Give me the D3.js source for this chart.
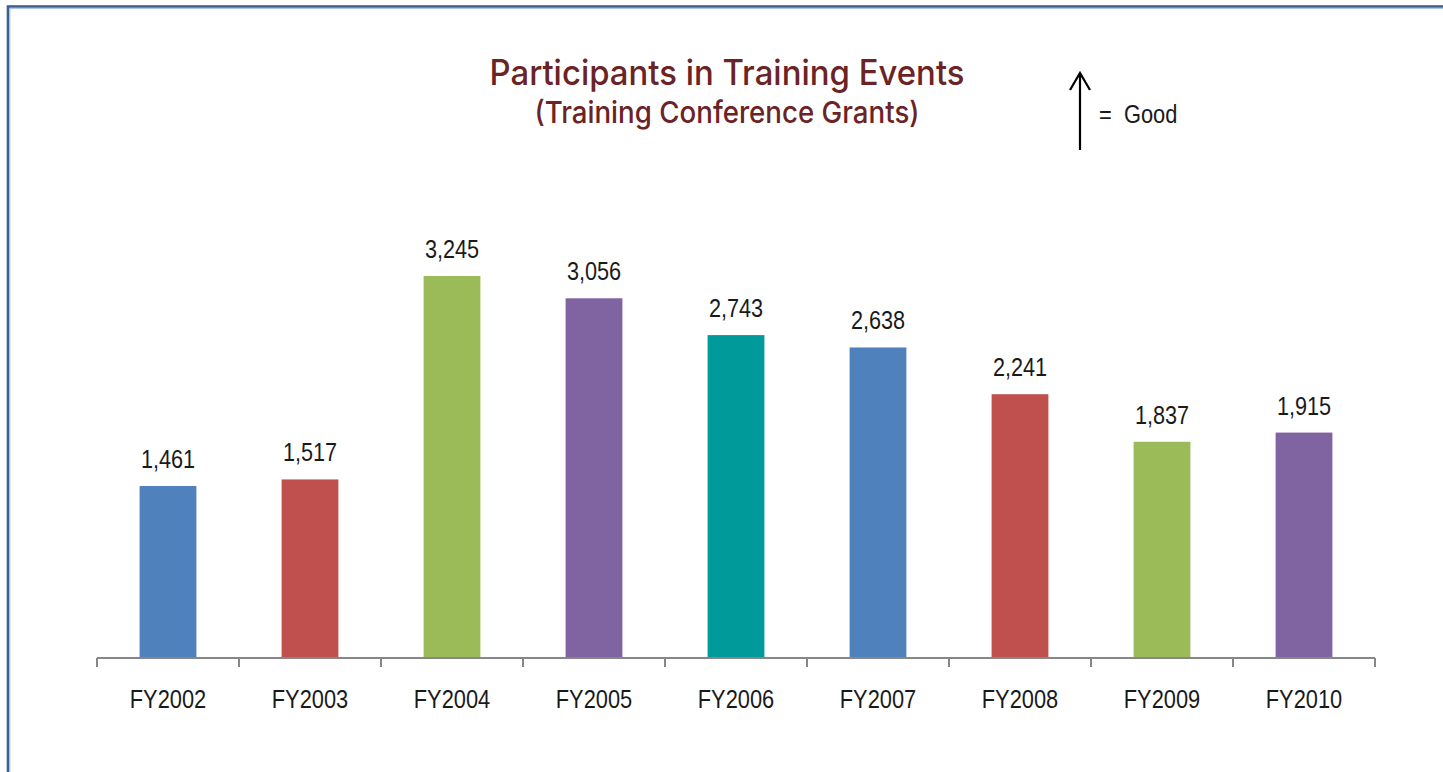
<!DOCTYPE html>
<html>
<head>
<meta charset="utf-8">
<script src="https://cdn.jsdelivr.net/npm/d3@7"></script>
<style>
  html, body { margin: 0; padding: 0; background: #fff; }
  svg { display: block; }
</style>
</head>
<body>
<svg id="chart"></svg>
<script>
// Participants in Training Events bar chart

var years = ["FY2002", "FY2003", "FY2004", "FY2005", "FY2006",
             "FY2007", "FY2008", "FY2009", "FY2010"];
var participants = [1461, 1517, 3245, 3056, 2743, 2638, 2241, 1837, 1915];
var barColors = ["#4F81BD", "#C0504D", "#9BBB59", "#8064A2", "#009A9A",
                 "#4F81BD", "#C0504D", "#9BBB59", "#8064A2"];
var titleText = "Participants in Training Events";
var subtitleText = "(Training Conference Grants)";
var legendText = "=  Good";

var width = 1443, height = 772;
var narrow = "'Liberation Sans Narrow', 'Arial Narrow', 'Liberation Sans', sans-serif";

var svg = d3.select("#chart").attr("width", width).attr("height", height);

// squeeze text to look like a narrow face (no narrow font installed)
function condense(sel, k) {
  sel.each(function() {
    var len = this.getComputedTextLength();
    d3.select(this).attr("textLength", len * k).attr("lengthAdjust", "spacingAndGlyphs");
  });
}

// frame (runs off the right and bottom edges)
svg.append("rect")
  .attr("x", 8).attr("y", 6.5)
  .attr("width", width + 20).attr("height", height + 20)
  .attr("fill", "none").attr("stroke", "#3C6190").attr("stroke-width", 2.6);
svg.append("path")
  .attr("d", "M9.8," + (height + 5) + "V8.3H" + (width + 5))
  .attr("fill", "none").attr("stroke", "#9DB9DC").attr("stroke-width", 1);

var x = d3.scaleBand()
  .domain(years)
  .range([97, 1375])
  .paddingInner(0.6)
  .paddingOuter(0.3);

var y = d3.scaleLinear()
  .domain([0, 3500])
  .range([658, 246]);

// bars
svg.append("g").selectAll("rect")
  .data(participants)
  .enter().append("rect")
  .attr("x", function(d, i) { return x(years[i]); })
  .attr("y", function(d) { return y(d); })
  .attr("width", x.bandwidth())
  .attr("height", function(d) { return y(0) - y(d); })
  .attr("fill", function(d, i) { return barColors[i]; });

// value labels
svg.append("g").selectAll("text")
  .data(participants)
  .enter().append("text")
  .attr("x", function(d, i) { return x(years[i]) + x.bandwidth() / 2; })
  .attr("y", function(d) { return y(d) - 18; })
  .attr("text-anchor", "middle")
  .style("font-family", narrow)
  .style("font-size", "25.5px")
  .attr("fill", "#1a1a1a")
  .text(d3.format(","))
  .call(condense, 0.85);

// x axis with ticks between the categories
var axis = svg.append("g");
var tickXs = d3.range(years.length + 1).map(function(i) {
  return x.range()[0] + i * x.step();
});
axis.append("line")
  .attr("x1", tickXs[0]).attr("x2", tickXs[tickXs.length - 1])
  .attr("y1", y(0)).attr("y2", y(0))
  .attr("stroke", "#878787").attr("stroke-width", 2);
axis.selectAll("line.tick")
  .data(tickXs)
  .enter().append("line")
  .attr("class", "tick")
  .attr("x1", function(d) { return d; }).attr("x2", function(d) { return d; })
  .attr("y1", y(0)).attr("y2", y(0) + 9)
  .attr("stroke", "#878787").attr("stroke-width", 2);
axis.selectAll("text")
  .data(years)
  .enter().append("text")
  .attr("x", function(d) { return x(d) + x.bandwidth() / 2; })
  .attr("y", 708)
  .attr("text-anchor", "middle")
  .style("font-family", narrow)
  .style("font-size", "26px")
  .attr("fill", "#1a1a1a")
  .text(function(d) { return d; })
  .call(condense, 0.84);

// titles
svg.append("text")
  .attr("x", 727).attr("y", 85)
  .attr("text-anchor", "middle")
  .attr("textLength", 475).attr("lengthAdjust", "spacingAndGlyphs")
  .style("font-family", "Inter, 'Open Sans', sans-serif")
  .style("font-size", "35px")
  .style("font-weight", 500)
  .attr("fill", "#6B2426")
  .text(titleText);
svg.append("text")
  .attr("x", 727).attr("y", 123)
  .attr("text-anchor", "middle")
  .attr("textLength", 385).attr("lengthAdjust", "spacingAndGlyphs")
  .style("font-family", "Inter, 'Open Sans', sans-serif")
  .style("font-size", "30px")
  .style("font-weight", 500)
  .attr("fill", "#6B2426")
  .text(subtitleText);

// "up = good" note
svg.append("path")
  .attr("d", "M1080,150V73M1070,90L1080,73L1090,90")
  .attr("fill", "none").attr("stroke", "#000").attr("stroke-width", 2.2);
svg.append("text")
  .attr("x", 1099).attr("y", 123)
  .style("font-family", narrow)
  .style("font-size", "26px")
  .style("white-space", "pre")
  .attr("fill", "#1a1a1a")
  .text(legendText)
  .call(condense, 0.84);
</script>
</body>
</html>
